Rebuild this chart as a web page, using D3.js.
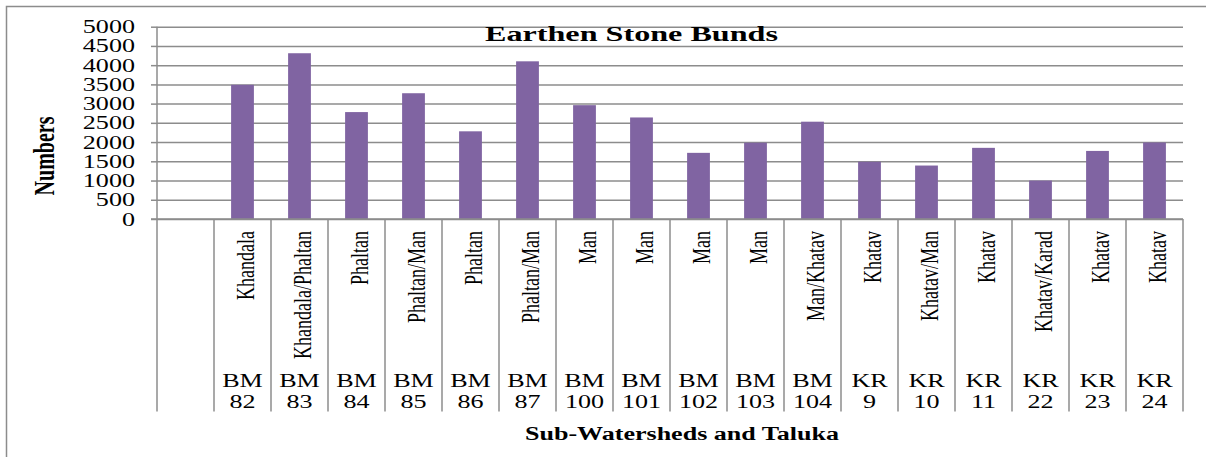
<!DOCTYPE html>
<html>
<head>
<meta charset="utf-8">
<script src="https://cdn.jsdelivr.net/npm/d3@7"></script>
<style>
  body { margin: 0; background: #fff; }
  svg { display: block; font-family: "Liberation Serif", "Times New Roman", serif; }
</style>
</head>
<body>
<svg id="svg" width="1206" height="457"></svg>
<script>
// データ（先頭は空の区分）
const watershedCodes = ["", "BM 82", "BM 83", "BM 84", "BM 85", "BM 86", "BM 87", "BM 100", "BM 101",
  "BM 102", "BM 103", "BM 104", "KR 9", "KR 10", "KR 11", "KR 22", "KR 23", "KR 24"];
const talukas = ["", "Khandala", "Khandala/Phaltan", "Phaltan", "Phaltan/Man", "Phaltan", "Phaltan/Man",
  "Man", "Man", "Man", "Man", "Man/Khatav", "Khatav", "Khatav/Man", "Khatav", "Khatav/Karad", "Khatav", "Khatav"];
const bunds = [null, 3490, 4310, 2780, 3270, 2280, 4100, 2960, 2640, 1720, 1985, 2530, 1490, 1390, 1850, 1000, 1770, 1990];
const yTicks = [0, 500, 1000, 1500, 2000, 2500, 3000, 3500, 4000, 4500, 5000];

const stretch = 1.45; // 横方向に引き伸ばされた文字
const gridColor = "#8c8c8c";
const svg = d3.select("#svg");

// 外枠
svg.append("rect")
  .attr("x", 6.5).attr("y", 6.5)
  .attr("width", 1220).attr("height", 470)
  .attr("fill", "none").attr("stroke", gridColor).attr("stroke-width", 1.5);

const plotLeft = 157, plotRight = 1183, plotTop = 26.7, plotBottom = 219, catBottom = 411.5;

const x = d3.scaleBand().domain(d3.range(watershedCodes.length)).range([plotLeft, plotRight]).paddingInner(0).paddingOuter(0);
const y = d3.scaleLinear().domain([0, 5000]).range([plotBottom, plotTop]);

// Y軸（目盛と補助線）
const yAxis = svg.append("g")
  .attr("transform", `translate(${plotLeft},0)`)
  .call(d3.axisLeft(y).tickValues(yTicks).tickSize(6).tickSizeOuter(0).tickFormat(d3.format("d")));
yAxis.select(".domain").remove();
yAxis.selectAll(".tick line").attr("stroke", gridColor).attr("stroke-width", 1.5);
yAxis.selectAll(".tick").append("line")
  .attr("x1", 0).attr("x2", plotRight - plotLeft)
  .attr("stroke", gridColor).attr("stroke-width", 1.5);
yAxis.selectAll(".tick text")
  .attr("x", 0).attr("dy", null)
  .attr("dominant-baseline", "central")
  .attr("text-anchor", "end")
  .attr("transform", `translate(-22,0) scale(${stretch},1)`)
  .style("font-family", "'Liberation Serif', serif")
  .style("font-size", "18px")
  .attr("fill", "#000");

// 棒
const bw = x.bandwidth() * 0.4;
svg.append("g").selectAll("rect")
  .data(bunds.map((v, i) => ({ v, i })).filter(d => d.v != null))
  .join("rect")
  .attr("x", d => x(d.i) + (x.bandwidth() - bw) / 2)
  .attr("y", d => y(d.v))
  .attr("width", bw)
  .attr("height", d => y(0) - y(d.v))
  .attr("fill", "#8064A2");

// X軸の線と区切り線
svg.append("line")
  .attr("x1", plotLeft - 6).attr("x2", plotRight).attr("y1", plotBottom).attr("y2", plotBottom)
  .attr("stroke", gridColor).attr("stroke-width", 1.5);
svg.append("line")
  .attr("x1", plotLeft).attr("x2", plotLeft).attr("y1", plotTop).attr("y2", catBottom)
  .attr("stroke", gridColor).attr("stroke-width", 1.5);
const bounds = x.domain().map(i => x(i) + x.bandwidth());
svg.append("g").selectAll("line")
  .data(bounds)
  .join("line")
  .attr("x1", d => d).attr("x2", d => d)
  .attr("y1", plotBottom).attr("y2", catBottom)
  .attr("stroke", gridColor).attr("stroke-width", 1.5);

// タルカ名（縦書き）
svg.append("g").selectAll("text")
  .data(talukas.map((t, i) => ({ t, i })).filter(d => d.t))
  .join("text")
  .attr("transform", d => `translate(${x(d.i) + x.bandwidth() / 2 + 11},231) scale(${stretch},1) rotate(-90)`)
  .attr("text-anchor", "end")
  .style("font-size", "18px")
  .text(d => d.t);

// 小流域コード（2行）
const codeG = svg.append("g").selectAll("g")
  .data(watershedCodes.map((c, i) => ({ c, i })).filter(d => d.c))
  .join("g")
  .attr("transform", d => `translate(${x(d.i) + x.bandwidth() / 2},0)`);
codeG.append("text")
  .attr("transform", `translate(0,387.3) scale(${stretch},1)`)
  .attr("text-anchor", "middle")
  .style("font-size", "18px")
  .text(d => d.c.split(" ")[0]);
codeG.append("text")
  .attr("transform", `translate(0,407.7) scale(${stretch},1)`)
  .attr("text-anchor", "middle")
  .style("font-size", "18px")
  .text(d => d.c.split(" ")[1]);

// タイトル
svg.append("text")
  .attr("x", 485).attr("y", 41)
  .attr("textLength", 293).attr("lengthAdjust", "spacingAndGlyphs")
  .style("font-size", "22px").style("font-weight", "bold")
  .text("Earthen Stone Bunds");

// 軸タイトル
svg.append("text")
  .attr("x", 525).attr("y", 440)
  .attr("textLength", 314).attr("lengthAdjust", "spacingAndGlyphs")
  .style("font-size", "18.5px").style("font-weight", "bold")
  .text("Sub-Watersheds and Taluka");

svg.append("text")
  .attr("transform", `translate(44.5,156) scale(${stretch},1) rotate(-90)`)
  .attr("text-anchor", "middle")
  .attr("dominant-baseline", "central")
  .style("font-size", "20px").style("font-weight", "bold")
  .text("Numbers");
</script>
</body>
</html>
